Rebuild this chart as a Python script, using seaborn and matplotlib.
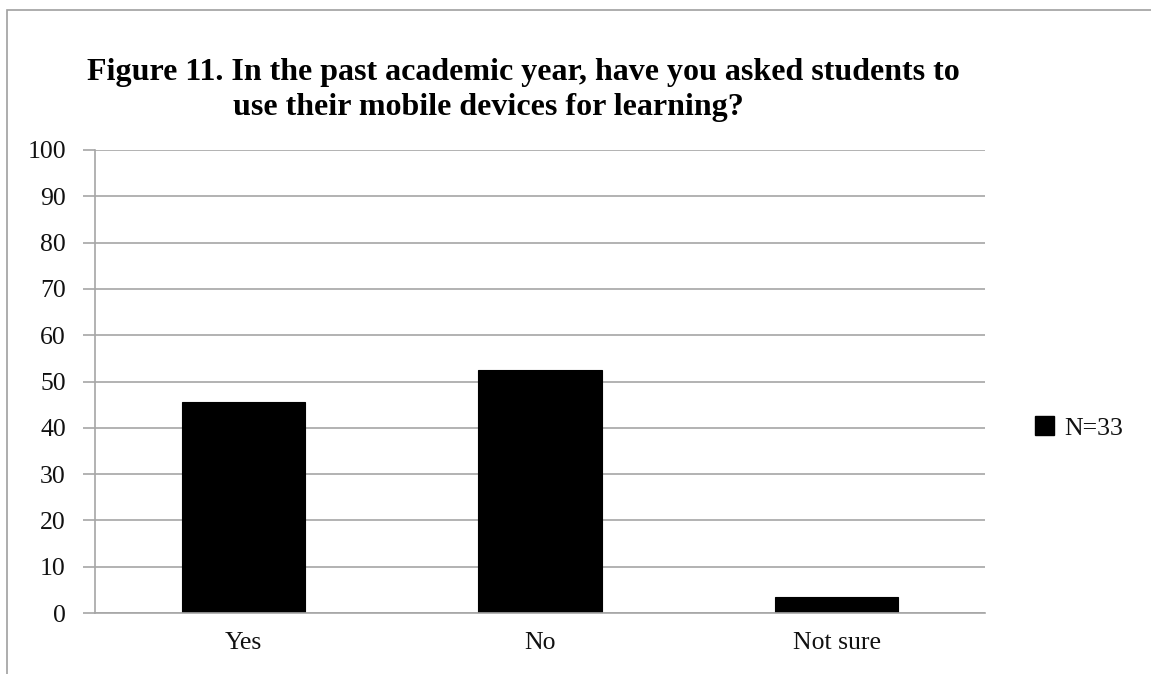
import matplotlib
matplotlib.use("Agg")
import matplotlib.pyplot as plt
import seaborn as sns
import pandas as pd
from matplotlib.patches import Patch, Rectangle

categories = ["Yes", "No", "Not sure"]
values = [45.5, 52.4, 3.4]
series_label = "N=33"
yticks = list(range(0, 101, 10))
title_line1 = "Figure 11. In the past academic year, have you asked students to"
title_line2 = "use their mobile devices for learning?"

sns.set_theme(style="white")
plt.rcParams['font.family'] = ['Liberation Serif', 'DejaVu Serif']

W, H = 1151, 674
fig = plt.figure(figsize=(W / 100, H / 100), dpi=100)
ax = fig.add_axes([95 / W, 1 - 613 / H, (985 - 95) / W, (613 - 150) / H])

df = pd.DataFrame({"cat": categories, "val": values})
sns.barplot(data=df, x="cat", y="val", color="black", width=0.415,
            saturation=1, ax=ax, edgecolor="black", linewidth=0.8)

grid_c = "#a6a6a6"
txt_c = "#111111"
ax.set_ylim(0, 100)
ax.set_xlim(-0.5, 2.5)
ax.set_yticks(yticks)
ax.yaxis.grid(True, color=grid_c, linewidth=1.2)
ax.set_axisbelow(True)
ax.set_xlabel("")
ax.set_ylabel("")
for s in ["top", "right"]:
    ax.spines[s].set_visible(False)
for s in ["left", "bottom"]:
    ax.spines[s].set_color(grid_c)
    ax.spines[s].set_linewidth(1.2)

ax.set_xticks([-0.5, 0.5, 1.5, 2.5], minor=True)
ax.tick_params(axis="x", which="minor", length=8, color=grid_c, width=1.2, direction="out")
ax.tick_params(axis="x", which="major", length=0, pad=14, labelsize=18.5, labelcolor=txt_c)
ax.tick_params(axis="y", length=9, color=grid_c, width=1.2, direction="out", pad=12,
               labelsize=18.5, labelcolor=txt_c, left=True)

tkw = dict(ha="center", va="baseline", fontsize=23, fontweight="bold",
           family="Liberation Serif", color="black")
fig.text(523 / W, 1 - 80 / H, title_line1, **tkw)
fig.text(488 / W, 1 - 115 / H, title_line2, **tkw)

fig.legend(handles=[Patch(facecolor="black", edgecolor="black", label=series_label)],
           loc="center left", bbox_to_anchor=(1012 / W, 1 - 428 / H), frameon=False,
           fontsize=18.5, handlelength=0.75, handleheight=0.75, handletextpad=0.4,
           labelcolor=txt_c)

fig.patches.append(Rectangle((7 / W, -0.1), 1.2, 1 + 0.1 - 10 / H, transform=fig.transFigure,
                             fill=False, edgecolor="#a0a0a0", linewidth=1.2))

fig.savefig("out.png", dpi=100)
